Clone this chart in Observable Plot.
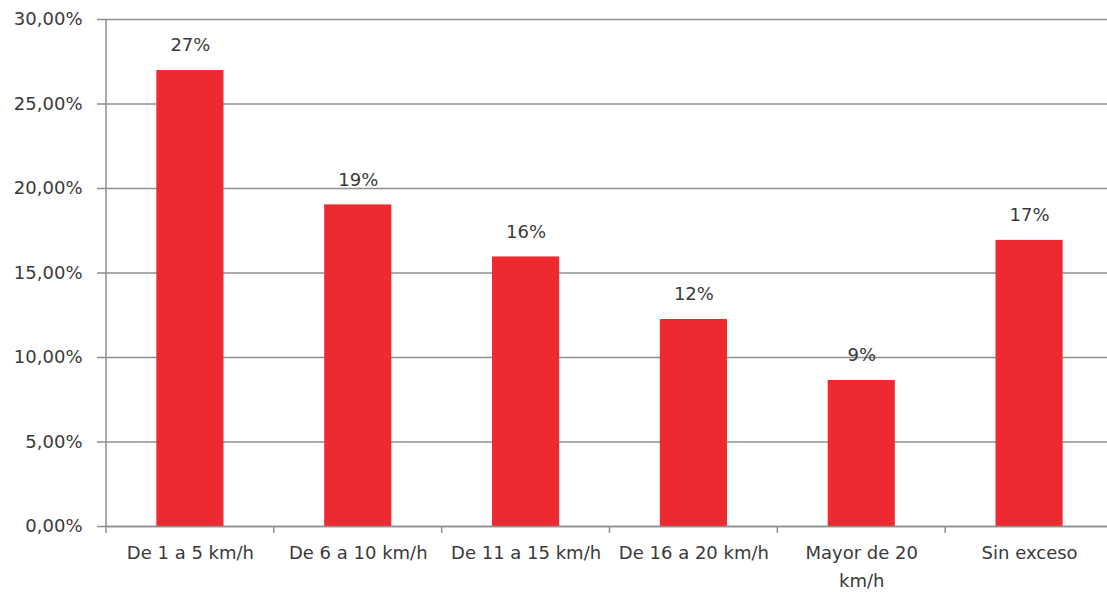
<!DOCTYPE html>
<html>
<head>
<meta charset="utf-8">
<script src="https://cdn.jsdelivr.net/npm/d3@7"></script>
<script src="https://cdn.jsdelivr.net/npm/@observablehq/plot@0.6"></script>
<style>
  html, body { margin: 0; padding: 0; background: #fff; overflow: hidden; }
  #chart svg { display: block; }
</style>
</head>
<body>
<div id="chart"></div>
<script>
const categories = ["De 1 a 5 km/h", "De 6 a 10 km/h", "De 11 a 15 km/h", "De 16 a 20 km/h", "Mayor de 20\nkm/h", "Sin exceso"];
const shares = [0.2698, 0.1903, 0.1595, 0.1225, 0.0864, 0.1693];
const yTicks = [0, 0.05, 0.10, 0.15, 0.20, 0.25, 0.30];

const data = categories.map((c, i) => ({category: c, share: shares[i]}));

const textColor = "#3a3a3a";
const gridColor = "#8e8e8e";
const barColor = "#ED2A2F";
const font = "DejaVu Sans, sans-serif";

// custom mark: y-axis line and category boundary ticks, from the x scale
function categoryFrame(index, scales, values, dimensions) {
  const x = scales.x;
  const y = scales.y;
  const step = x.step();
  const gap = step - x.bandwidth();
  const g = d3.create("svg:g").attr("stroke", gridColor).attr("stroke-width", 1.5);
  const y0 = y(0);
  const yTop = y(0.30);
  const left = x(categories[0]) - gap / 2;
  g.append("line").attr("x1", left).attr("x2", left).attr("y1", yTop).attr("y2", y0 + 7);
  categories.forEach(c => {
    const b = x(c) + x.bandwidth() + gap / 2;
    g.append("line").attr("x1", b).attr("x2", b).attr("y1", y0).attr("y2", y0 + 7);
  });
  return g.node();
}

const chart = Plot.plot({
  width: 1107,
  height: 592,
  marginLeft: 106,
  marginRight: 0,
  marginTop: 19,
  marginBottom: 66,
  style: {fontFamily: font, fontSize: "18px", color: textColor, background: "#fff", overflow: "visible"},
  x: {domain: categories, range: [106, 1113], paddingInner: 0.6, paddingOuter: 0.3, round: false, label: null},
  y: {domain: [0, 0.30], label: null},
  marks: [
    Plot.gridY(yTicks, {stroke: gridColor, strokeOpacity: 1, strokeWidth: 1.5}),
    Plot.barY(data, {x: "category", y: "share", fill: barColor}),
    Plot.ruleY([0], {stroke: gridColor, strokeWidth: 1.5}),
    categoryFrame,
    Plot.axisY(yTicks, {
      tickSize: 9, tickPadding: 15, stroke: gridColor, strokeWidth: 1.5,
      tickFormat: d => (d * 100).toFixed(2).replace(".", ",") + "%",
      fill: textColor, fontSize: 18, label: null
    }),
    Plot.axisX({tickSize: 0, tickPadding: 13, fill: textColor, fontSize: 18, lineHeight: 1.55, label: null}),
    Plot.text(data, {
      x: "category", y: "share", dy: -25,
      text: d => Math.round(d.share * 100) + "%",
      fill: textColor, fontSize: 18
    })
  ]
});

document.getElementById("chart").appendChild(chart);
</script>
</body>
</html>
